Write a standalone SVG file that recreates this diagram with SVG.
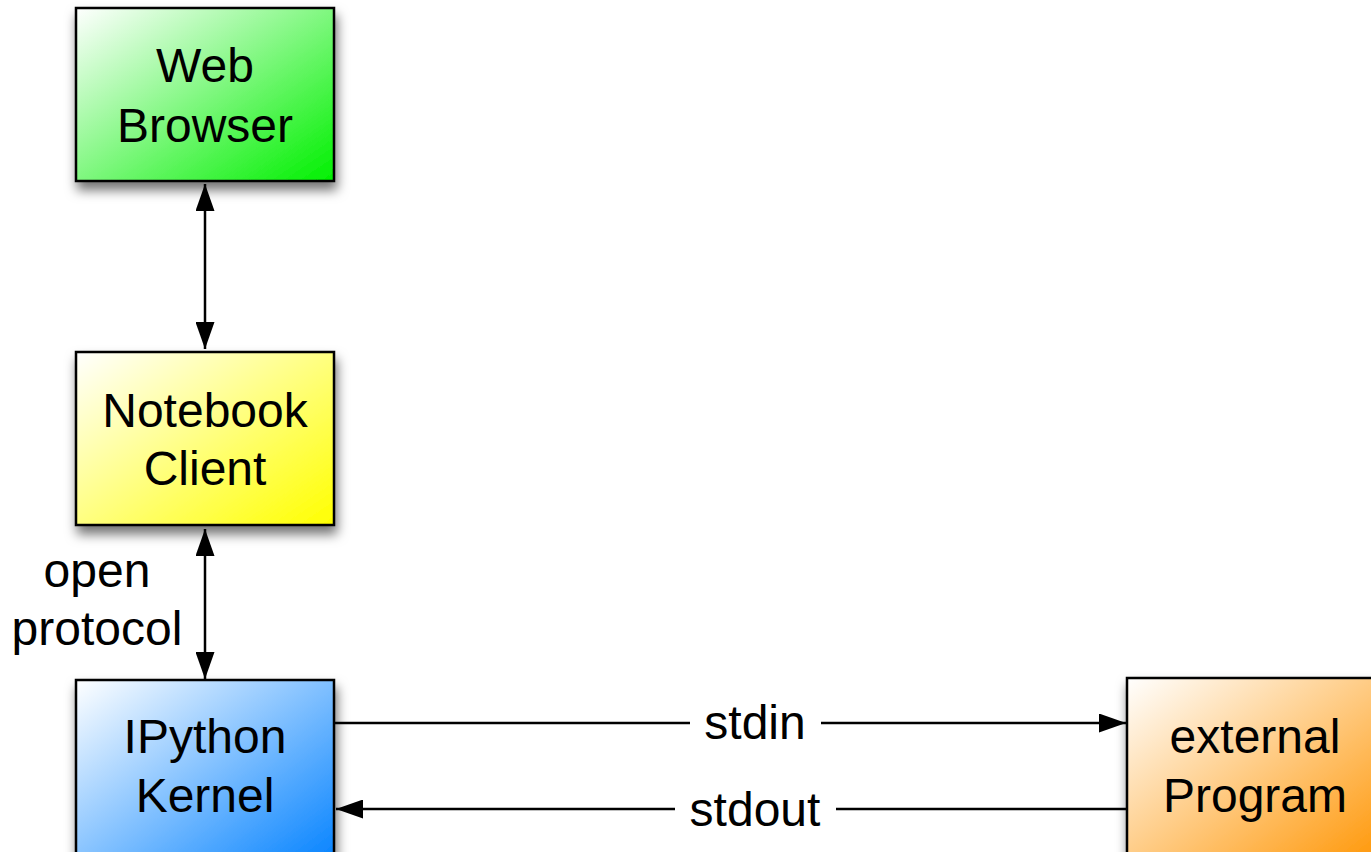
<svg xmlns="http://www.w3.org/2000/svg" width="1371" height="852" viewBox="0 0 1371 852">
<style>
.box{stroke:#000;stroke-width:2.5}
.lbl{font-family:"Liberation Sans",Arial,sans-serif;font-size:48px;fill:#000;text-anchor:middle}
.ln{stroke:#000;stroke-width:2.5;fill:none}
</style>
<defs>
<linearGradient id="gGreen" x1="0" y1="0" x2="1" y2="1"><stop offset="0" stop-color="#ffffff"/><stop offset="1" stop-color="#00f000"/></linearGradient>
<linearGradient id="gYellow" x1="0" y1="0" x2="1" y2="1"><stop offset="0" stop-color="#ffffff"/><stop offset="1" stop-color="#ffff00"/></linearGradient>
<linearGradient id="gBlue" x1="0" y1="0" x2="1" y2="1"><stop offset="0" stop-color="#ffffff"/><stop offset="1" stop-color="#0080ff"/></linearGradient>
<linearGradient id="gOrange" x1="0" y1="0" x2="1" y2="1"><stop offset="0" stop-color="#ffffff"/><stop offset="1" stop-color="#ff9400"/></linearGradient>
<filter id="sh" x="-20%" y="-20%" width="150%" height="150%"><feDropShadow dx="2" dy="8" stdDeviation="6" flood-color="#000" flood-opacity="0.55"/></filter>
<marker id="ah" viewBox="0 0 27 19" refX="27" refY="9.5" markerWidth="27" markerHeight="19" markerUnits="userSpaceOnUse" orient="auto-start-reverse"><path d="M0,0 L27,9.5 L0,19 Z" fill="#000"/></marker>
</defs>
<g id="connectors">
<line class="ln" x1="205" y1="184" x2="205" y2="349" marker-start="url(#ah)" marker-end="url(#ah)"/>
<line class="ln" x1="205" y1="529" x2="205" y2="679" marker-start="url(#ah)" marker-end="url(#ah)"/>
<line class="ln" x1="335" y1="723" x2="690" y2="723"/>
<line class="ln" x1="821" y1="723" x2="1126" y2="723" marker-end="url(#ah)"/>
<line class="ln" x1="1127" y1="809" x2="836" y2="809"/>
<line class="ln" x1="675" y1="809" x2="336" y2="809" marker-end="url(#ah)"/>
<text class="lbl" x="755" y="739">stdin</text>
<text class="lbl" x="755" y="826">stdout</text>
<text class="lbl" x="97" y="587">open</text>
<text class="lbl" x="97" y="645">protocol</text>
</g>
<g id="web-browser">
<rect class="box" x="76" y="8" width="258" height="173" fill="url(#gGreen)" filter="url(#sh)"/>
<text class="lbl" x="205" y="82">Web</text>
<text class="lbl" x="205" y="142">Browser</text>
</g>
<g id="notebook-client">
<rect class="box" x="76" y="352" width="258" height="173" fill="url(#gYellow)" filter="url(#sh)"/>
<text class="lbl" x="205" y="427">Notebook</text>
<text class="lbl" x="205" y="485">Client</text>
</g>
<g id="ipython-kernel">
<rect class="box" x="76" y="680" width="258" height="190" fill="url(#gBlue)" filter="url(#sh)"/>
<text class="lbl" x="205" y="753">IPython</text>
<text class="lbl" x="205" y="812">Kernel</text>
</g>
<g id="external-program">
<rect class="box" x="1127" y="678" width="258" height="190" fill="url(#gOrange)" filter="url(#sh)"/>
<text class="lbl" x="1255" y="753">external</text>
<text class="lbl" x="1255" y="812">Program</text>
</g>
</svg>
